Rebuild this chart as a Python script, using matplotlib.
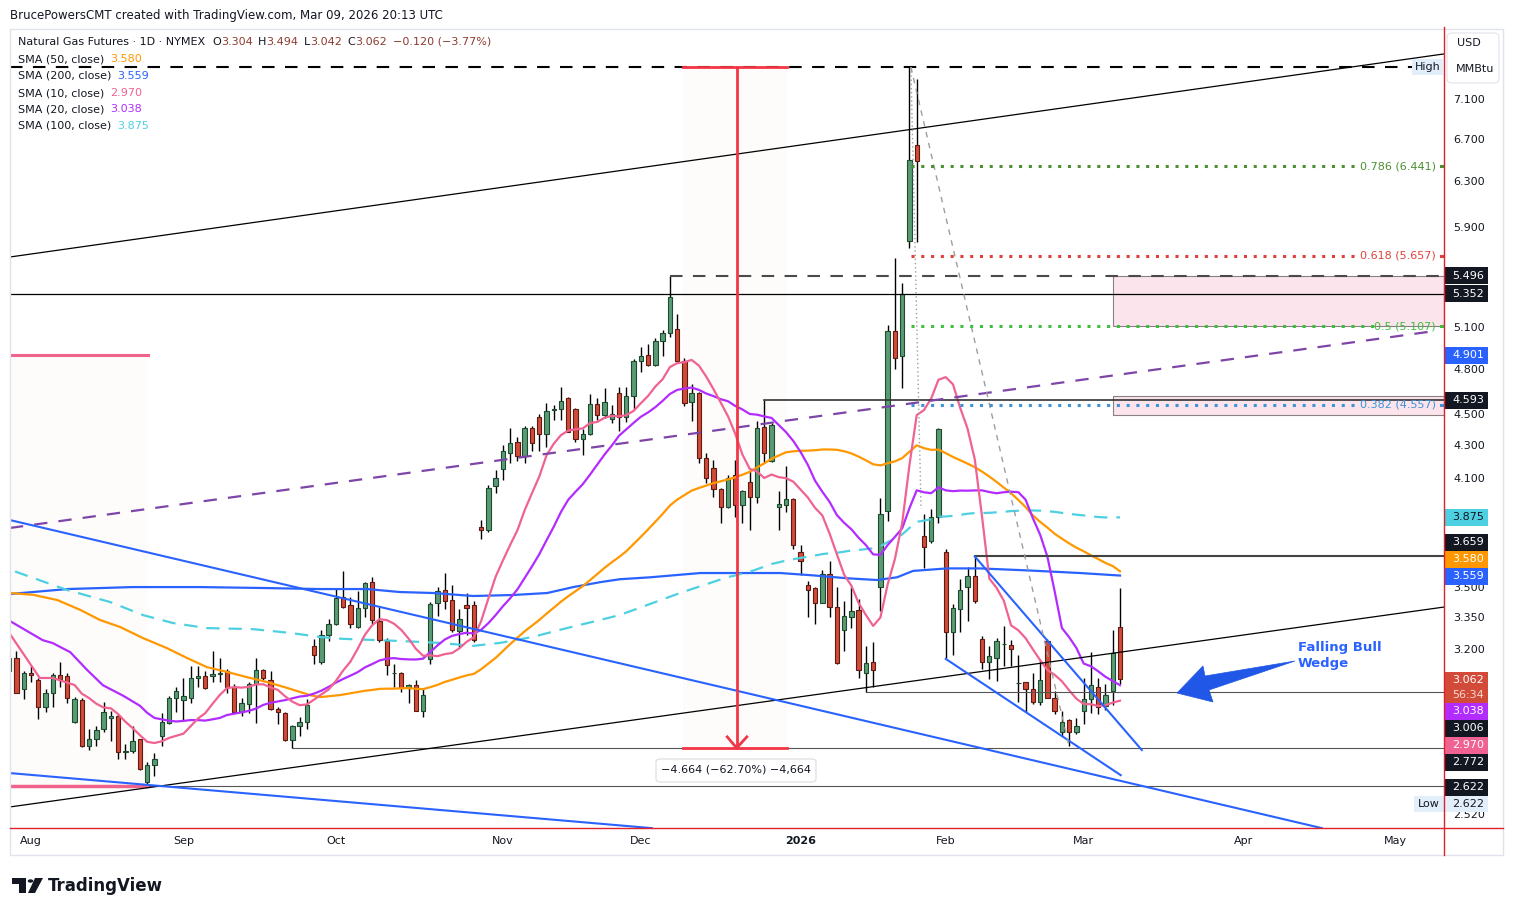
import numpy as np
import pandas as pd
import matplotlib
matplotlib.use("Agg")
import matplotlib.pyplot as plt
from matplotlib.patches import Rectangle, Polygon, FancyBboxPatch, Circle
from matplotlib.lines import Line2D
from matplotlib.ticker import NullLocator, NullFormatter

# NG1! daily candles, bar 0 = 29 Jul 2025 ... bar 153 = 9 Mar 2026
opens = [
    3.10, 3.16, 3.02, 3.09, 3.06, 2.94, 3.00, 3.08, 3.075, 2.88,
    2.97, 2.78, 2.81, 2.85, 2.895, 2.905, 2.755, 2.76, 2.81, 2.64,
    2.705, 2.82, 2.875, 2.98, 2.97, 2.98, 3.07, 3.075, 3.075, 3.085,
    3.10, 3.03, 2.92, 2.955, 3.04, 3.105, 3.06, 2.935, 2.915, 2.805,
    2.86, 2.88, 3.215, 3.14, 3.265, 3.32, 3.45, 3.41, 3.305, 3.395,
    3.525, 3.33, 3.235, 3.09, 3.09, 3.03, 3.035, 2.925, 3.155, 3.42,
    3.485, 3.435, 3.285, 3.41, 3.41, 3.82, 3.80, 4.05, 4.155, 4.25,
    4.32, 4.23, 4.41, 4.48, 4.37, 4.525, 4.53, 4.60, 4.53, 4.34,
    4.37, 4.565, 4.49, 4.465, 4.64, 4.48, 4.62, 4.855, 4.90, 4.83,
    5.00, 5.06, 5.09, 4.86, 4.575, 4.635, 4.22, 4.16, 4.035, 3.93,
    4.12, 3.94, 4.075, 3.99, 4.415, 4.20, 3.93, 3.94, 3.975, 3.685,
    3.51, 3.495, 3.42, 3.565, 3.40, 3.29, 3.35, 3.385, 3.09, 3.14,
    3.50, 3.91, 5.07, 4.89, 5.78, 6.64, 3.77, 3.74, 3.875, 3.68,
    3.28, 3.39, 3.50, 3.555, 3.245, 3.14, 3.16, 3.225, 3.22, 3.045,
    3.05, 3.02, 2.965, 3.235, 2.98, 2.835, 2.885, 2.835, 2.925, 2.975,
    3.03, 2.945, 3.01, 3.304]
highs = [
    3.18, 3.19, 3.10, 3.12, 3.07, 3.02, 3.09, 3.14, 3.09, 2.985,
    2.98, 2.85, 2.86, 2.965, 2.925, 2.91, 2.79, 2.86, 2.81, 2.715,
    2.75, 2.915, 2.99, 3.03, 3.07, 3.12, 3.12, 3.10, 3.19, 3.16,
    3.11, 3.04, 2.98, 3.05, 3.16, 3.11, 3.10, 2.94, 2.92, 2.865,
    2.90, 2.975, 3.245, 3.29, 3.34, 3.49, 3.58, 3.45, 3.48, 3.525,
    3.55, 3.40, 3.25, 3.13, 3.095, 3.04, 3.06, 3.02, 3.425, 3.50,
    3.57, 3.51, 3.39, 3.47, 3.43, 3.86, 4.06, 4.15, 4.30, 4.41,
    4.35, 4.42, 4.42, 4.50, 4.57, 4.56, 4.68, 4.61, 4.535, 4.40,
    4.63, 4.60, 4.67, 4.56, 4.68, 4.68, 4.87, 4.955, 4.98, 5.02,
    5.08, 5.496, 5.20, 4.875, 4.70, 4.645, 4.25, 4.21, 4.04, 4.12,
    4.21, 4.03, 4.14, 4.45, 4.593, 4.44, 4.02, 4.17, 3.985, 3.72,
    3.53, 3.50, 3.59, 3.635, 3.50, 3.43, 3.50, 3.44, 3.215, 3.23,
    3.985, 5.12, 5.64, 5.44, 7.436, 7.31, 3.89, 3.92, 4.41, 3.70,
    3.415, 3.54, 3.605, 3.659, 3.26, 3.215, 3.25, 3.31, 3.24, 3.17,
    3.05, 3.09, 3.15, 3.245, 3.01, 2.925, 2.89, 2.895, 3.07, 3.185,
    3.07, 3.04, 3.29, 3.494]
lows = [
    3.08, 3.00, 2.975, 3.05, 2.89, 2.92, 2.94, 3.03, 2.96, 2.875,
    2.775, 2.765, 2.78, 2.835, 2.80, 2.73, 2.73, 2.75, 2.685, 2.622,
    2.66, 2.78, 2.87, 2.92, 2.885, 2.96, 3.03, 3.02, 3.05, 3.05,
    3.00, 2.915, 2.905, 2.915, 2.875, 3.06, 2.93, 2.87, 2.80, 2.772,
    2.82, 2.85, 3.13, 3.13, 3.235, 3.315, 3.395, 3.30, 3.30, 3.35,
    3.32, 3.23, 3.08, 3.03, 3.005, 2.96, 2.925, 2.90, 3.13, 3.355,
    3.39, 3.28, 3.21, 3.265, 3.23, 3.75, 3.79, 4.01, 4.085, 4.19,
    4.20, 4.19, 4.26, 4.26, 4.29, 4.46, 4.46, 4.38, 4.32, 4.24,
    4.365, 4.46, 4.47, 4.44, 4.39, 4.445, 4.53, 4.78, 4.82, 4.82,
    4.89, 5.03, 4.85, 4.55, 4.45, 4.19, 4.07, 3.99, 3.84, 3.925,
    3.875, 3.84, 3.80, 3.955, 4.19, 4.195, 3.80, 3.90, 3.70, 3.56,
    3.35, 3.32, 3.42, 3.35, 3.13, 3.19, 3.30, 3.07, 3.006, 3.03,
    3.38, 3.85, 4.80, 4.67, 5.72, 5.77, 3.60, 3.73, 3.84, 3.16,
    3.17, 3.28, 3.33, 3.42, 3.11, 3.065, 3.055, 3.12, 3.12, 2.965,
    2.92, 2.955, 2.95, 2.98, 2.91, 2.82, 2.782, 2.83, 2.87, 2.915,
    2.91, 2.93, 2.95, 3.042]
closes = [
    3.16, 3.00, 3.09, 3.08, 2.94, 3.00, 3.08, 3.065, 2.98, 2.975,
    2.78, 2.81, 2.845, 2.92, 2.905, 2.755, 2.76, 2.80, 2.69, 2.705,
    2.73, 2.88, 2.98, 3.01, 2.99, 3.07, 3.075, 3.025, 3.085, 3.09,
    3.03, 2.92, 2.96, 3.04, 3.105, 3.07, 2.935, 2.92, 2.805, 2.86,
    2.88, 2.95, 3.17, 3.265, 3.32, 3.445, 3.40, 3.32, 3.395, 3.52,
    3.335, 3.24, 3.125, 3.09, 3.025, 3.035, 2.925, 2.995, 3.415, 3.48,
    3.43, 3.29, 3.34, 3.395, 3.24, 3.80, 4.04, 4.10, 4.26, 4.31,
    4.23, 4.41, 4.31, 4.37, 4.52, 4.53, 4.585, 4.385, 4.34, 4.37,
    4.565, 4.49, 4.575, 4.50, 4.48, 4.62, 4.855, 4.89, 4.83, 5.00,
    5.06, 5.33, 4.855, 4.57, 4.635, 4.22, 4.10, 4.035, 3.93, 4.10,
    3.94, 4.02, 3.99, 4.41, 4.25, 4.425, 3.945, 3.975, 3.72, 3.635,
    3.485, 3.42, 3.565, 3.40, 3.135, 3.355, 3.38, 3.105, 3.135, 3.105,
    3.89, 5.07, 4.88, 5.35, 6.50, 6.49, 3.71, 3.875, 4.40, 3.28,
    3.395, 3.485, 3.555, 3.43, 3.14, 3.165, 3.235, 3.225, 3.20, 3.045,
    3.02, 2.965, 3.06, 2.98, 2.925, 2.88, 2.835, 2.86, 2.975, 3.035,
    2.94, 2.995, 3.18, 3.062]

month_labels = ["Aug", "Sep", "Oct", "Nov", "Dec", "2026", "Feb", "Mar", "Apr", "May"]
month_bars = [3, 24, 45, 68, 87, 109, 129, 148, 170, 191]
price_ticks = [7.1, 6.7, 6.3, 5.9, 5.1, 4.8, 4.5, 4.3, 4.1, 3.5, 3.35, 3.2, 2.52]

sma10_head_x = [0.1, 4.2, 6.0]
sma10_head_y = [3.27, 3.068, 3.068]
sma20_head_x = [0.1, 4.6, 6.0, 8.4, 10.7, 12.9, 15.7, 18.0]
sma20_head_y = [3.332, 3.241, 3.227, 3.185, 3.105, 3.036, 2.99, 2.947]
sma50_head_x = [0.1, 3.3, 6.6, 9.8, 12.5, 15.3, 18.4, 21.7, 24.5, 27.2, 30.0, 32.7,
                35.5, 38.3, 41.4, 42.8, 45.6]
sma50_head_y = [3.470, 3.461, 3.435, 3.386, 3.337, 3.303, 3.251, 3.204, 3.158, 3.117,
                3.095, 3.072, 3.050, 3.024, 2.993, 2.984, 2.993]
sma100_head_x = [0.8, 8.0, 13.9, 18.4, 22.6, 27.2, 33.6, 38.7, 42.8, 46.0, 53.8, 59.3,
                 63.9, 67.6, 72.1, 76.8, 81.4, 84.1, 92.4]
sma100_head_y = [3.58, 3.485, 3.425, 3.361, 3.322, 3.298, 3.293, 3.275, 3.256, 3.247,
                 3.237, 3.228, 3.214, 3.228, 3.256, 3.298, 3.337, 3.361, 3.470]
sma200_x = [0.1, 8.0, 17.0, 26.3, 35.5, 42.8, 49.3, 53.8, 58.4, 63.9, 69.4, 74.1, 77.7,
            81.4, 84.1, 88.3, 95.2, 106.2, 110.7, 115.4, 119.5, 122.3, 124.5, 129.2,
            133.7, 140.6, 147.5, 153.0]
sma200_y = [3.465, 3.490, 3.500, 3.500, 3.495, 3.490, 3.490, 3.475, 3.470, 3.455, 3.460,
            3.470, 3.500, 3.525, 3.540, 3.550, 3.572, 3.572, 3.560, 3.545, 3.536, 3.550,
            3.583, 3.596, 3.596, 3.585, 3.572, 3.559]

W, H = 1514, 916
UP, UP_EDGE = "#5A9B74", "#1E4A30"
DN, DN_EDGE = "#D24B38", "#5E1B13"
TXT = "#131722"


def fy(y):
    return 1 - y / H


fig = plt.figure(figsize=(W / 100, H / 100), dpi=100)
fig.patch.set_facecolor("white")
ax = fig.add_axes([10 / W, 1 - 828 / H, 1434 / W, 798 / H])
ax.set_yscale("log")
ax.set_xlim(0.107, 197.63)
ax.set_ylim(2.4685, 7.8467)
for s in ax.spines.values():
    s.set_visible(False)
ax.yaxis.tick_right()
ax.set_yticks(price_ticks)
ax.set_yticklabels([f"{p:.3f}" for p in price_ticks])
ax.yaxis.set_minor_locator(NullLocator())
ax.yaxis.set_minor_formatter(NullFormatter())
ax.tick_params(axis="y", length=0, pad=6.5, labelsize=8, labelcolor=TXT)
ax.set_xticks(month_bars)
ax.set_xticklabels(month_labels)
ax.tick_params(axis="x", length=0, pad=6, labelsize=8, labelcolor=TXT)
ax.get_xticklabels()[5].set_fontweight("bold")

# faint shaded drawing areas
ax.add_patch(Rectangle((0.1, 2.622), 19.0, 4.901 - 2.622, fc="#FDFCFB", ec="none", zorder=0.5))
ax.add_patch(Rectangle((92.8, 2.772), 14.3, 7.436 - 2.772, fc="#FDFCFB", ec="none", zorder=0.5))

# candles
idx = np.arange(len(closes))
o, h, l, c = map(np.array, (opens, highs, lows, closes))
up = c >= o
ax.vlines(idx, l, h, color="black", lw=1.0, zorder=2)
ax.bar(idx, np.abs(c - o), bottom=np.minimum(o, c), width=0.6,
       color=np.where(up, UP, DN), edgecolor=np.where(up, UP_EDGE, DN_EDGE),
       linewidth=0.8, zorder=2.5)

# moving averages
cs = pd.Series(closes)
sma10 = cs.rolling(10).mean()
sma20 = cs.rolling(20).mean()
sma50 = cs.rolling(50).mean()
sma100 = cs.rolling(100).mean()
ax.plot(sma200_x, sma200_y, color="#2962FF", lw=1.6, zorder=3)
ax.plot(sma100_head_x + list(idx[99:]), sma100_head_y + list(sma100[99:]),
        color="#4DD0E1", lw=1.6, dashes=(6, 4), zorder=3)
ax.plot(sma50_head_x + list(idx[49:]), sma50_head_y + list(sma50[49:]),
        color="#FF9800", lw=1.6, zorder=3)
ax.plot(sma20_head_x + list(idx[19:]), sma20_head_y + list(sma20[19:]),
        color="#B22CFF", lw=1.6, zorder=3)
ax.plot(sma10_head_x + list(idx[9:]), sma10_head_y + list(sma10[9:]),
        color="#F06292", lw=1.6, zorder=3)

# zones
for x0, p0, p1 in [(152.0, 5.107, 5.496), (152.0, 4.49, 4.616)]:
    ax.add_patch(Rectangle((x0, p0), 197.63 - x0, p1 - p0, fc="#FCE4EC", ec="#8A8080",
                           lw=0.8, zorder=1.5))

# horizontal levels
ax.plot([0.1, 193.8], [7.436, 7.436], color="black", lw=1.5, dashes=(6, 5), zorder=4)
ax.plot([91, 197.63], [5.496, 5.496], color="#4A4A4A", lw=1.5, dashes=(6, 5), zorder=4)
ax.plot([0.1, 197.63], [5.352, 5.352], color="black", lw=0.9, zorder=4)
ax.plot([104, 197.63], [4.593, 4.593], color="#333333", lw=1.2, zorder=4)
ax.plot([133, 197.63], [3.659, 3.659], color="#444444", lw=1.5, zorder=4)
for p, x0 in [(3.006, 118), (2.772, 39), (2.622, 19)]:
    ax.plot([x0, 197.63], [p, p], color="#555555", lw=0.8, zorder=4)
ax.plot([0.1, 19.1], [4.901, 4.901], color="#F0648C", lw=2.2, zorder=4)
ax.plot([0.1, 19.0], [2.622, 2.622], color="#F0648C", lw=2.5, zorder=4)

# trend lines
ax.plot([0.1, 197.6], [5.647, 7.579], color="black", lw=0.9, zorder=4)
ax.plot([0.1, 197.6], [2.545, 3.400], color="black", lw=0.9, zorder=4)
ax.plot([0.1, 196.4], [3.813, 5.073], color="#7E45A8", lw=1.6, dashes=(6, 5), zorder=4)
ax.plot([0.1, 180.8], [3.857, 2.468], color="#2962FF", lw=1.5, zorder=4)
ax.plot([0.1, 88.5], [2.673, 2.468], color="#2962FF", lw=1.5, zorder=4)
ax.plot([133.0, 156.0], [3.659, 2.764], color="#2962FF", lw=1.5, zorder=4)
ax.plot([129.0, 153.1], [3.154, 2.665], color="#2962FF", lw=1.5, zorder=4)
ax.plot([124.2, 146.0], [7.436, 2.777], color="#9E9E9E", lw=1.0, dashes=(4, 4), zorder=4)
ax.plot([124.2, 125.6], [7.436, 3.92], color="#9E9E9E", lw=1.0, dashes=(1, 2), zorder=4)

# fibonacci levels
fibs = [(6.441, "0.786 (6.441)", "#4C8F2F", 186.1),
        (5.657, "0.618 (5.657)", "#E0403A", 186.1),
        (5.107, "0.5 (5.107)", "#3DBE3D", 188.0),
        (4.557, "0.382 (4.557)", "#3D93D8", 186.1)]
for p, lab, col, x1 in fibs:
    ax.plot([124.2, x1], [p, p], color=col, lw=2.2, dashes=(1, 2.2), zorder=4.5)
    ax.plot([197.2, 197.63], [p, p], color=col, lw=2.2, zorder=4.5)
    ax.text(196.5, p, lab, color=col, fontsize=8, ha="right", va="center", zorder=5)

# price range measurement
red = "#F23645"
ax.plot([100.2, 100.2], [7.436, 2.772], color=red, lw=2, zorder=4.6)
ax.plot([92.8, 107.1], [7.436, 7.436], color=red, lw=2, zorder=4.6)
ax.plot([92.8, 107.1], [2.772, 2.772], color=red, lw=2, zorder=4.6)
ax.plot([98.9, 100.2, 101.6], [2.817, 2.772, 2.817], color=red, lw=2, zorder=4.6)
fig.patches.append(FancyBboxPatch((656 / W, fy(782)), 160 / W, 23 / H,
                                  boxstyle="round,pad=0,rounding_size=0.003",
                                  transform=fig.transFigure, fc="white", ec="#DADCE0", lw=0.8))
fig.text(736 / W, fy(770), "\u22124.664 (\u221262.70%) \u22124,664", fontsize=8,
         ha="center", va="center", color=TXT)

# falling wedge annotation
arrow = [(1177, 693), (1203, 666), (1205, 676), (1295, 661), (1209, 690), (1213, 702)]
fig.patches.append(Polygon([(x / W, fy(y)) for x, y in arrow], closed=True,
                           transform=fig.transFigure, fc="#2157E6", ec="#2157E6", lw=0.5))
fig.text(1298 / W, fy(648), "Falling Bull", fontsize=9.5, fontweight="bold",
         color="#2962FF", va="center")
fig.text(1298 / W, fy(664), "Wedge", fontsize=9.5, fontweight="bold",
         color="#2962FF", va="center")

# frame and red separators
fig.patches.append(Rectangle((10 / W, fy(855)), 1493 / W, 826 / H, transform=fig.transFigure,
                             fc="none", ec="#E0E3EB", lw=1))
fig.add_artist(Line2D([1444 / W, 1444 / W], [fy(27), fy(855)], color="#E0202A", lw=1))
fig.add_artist(Line2D([10 / W, 1503 / W], [fy(828), fy(828)], color="#E0202A", lw=1))

# price-axis tags
BLACK = "#131722"
tags = [("5.496", 276, BLACK, "white"), ("5.352", 294, BLACK, "white"),
        ("4.901", 355, "#2962FF", "white"), ("4.593", 400, BLACK, "white"),
        ("3.875", 517, "#4DD0E1", TXT), ("3.659", 542, BLACK, "white"),
        ("3.580", 559, "#FF9800", "white"), ("3.559", 576, "#2962FF", "white"),
        ("3.038", 711, "#B22CFF", "white"), ("3.006", 728, BLACK, "white"),
        ("2.970", 745, "#F06292", "white"), ("2.772", 762, BLACK, "white"),
        ("2.622", 787, BLACK, "white")]
for txt, y, bg, fg in tags:
    fig.patches.append(Rectangle((1445 / W, fy(y + 8.5)), 43 / W, 17 / H,
                                 transform=fig.transFigure, fc=bg, ec="none"))
    fig.text(1452 / W, fy(y), txt, fontsize=8, color=fg, va="center", ha="left")
fig.patches.append(Rectangle((1445 / W, fy(703)), 43 / W, 31 / H,
                             transform=fig.transFigure, fc="#D24B38", ec="none"))
fig.text(1452 / W, fy(680), "3.062", fontsize=8, color="white", va="center")
fig.text(1452 / W, fy(695), "56:34", fontsize=8, color="#F8D6D0", va="center")
fig.patches.append(Rectangle((1414 / W, fy(812)), 74 / W, 16 / H,
                             transform=fig.transFigure, fc="#E3EEFB", ec="none"))
fig.text(1418 / W, fy(804), "Low", fontsize=8, color=TXT, va="center")
fig.text(1452 / W, fy(804), "2.622", fontsize=8, color=TXT, va="center")
fig.patches.append(Rectangle((1412 / W, fy(75)), 31 / W, 16 / H,
                             transform=fig.transFigure, fc="#E3EEFB", ec="none"))
fig.text(1415 / W, fy(67), "High", fontsize=8, color=TXT, va="center")
fig.patches.append(FancyBboxPatch((1447 / W, fy(83)), 52 / W, 50 / H,
                                  boxstyle="round,pad=0,rounding_size=0.004",
                                  transform=fig.transFigure, fc="white", ec="#E0E3EB", lw=0.8))
fig.text(1457 / W, fy(43), "USD", fontsize=8, color=TXT, va="center")
fig.text(1456 / W, fy(69), "MMBtu", fontsize=8, color=TXT, va="center")

# header and legend
fig.text(10 / W, fy(15), "BrucePowersCMT created with TradingView.com, Mar 09, 2026 20:13 UTC",
         fontsize=8.5, color=TXT, va="center")


def chain(y, parts):
    prev = ax.annotate(parts[0][0], xy=(18, H - y), xycoords="figure pixels",
                       color=parts[0][1], fontsize=8, va="center", ha="left",
                       annotation_clip=False)
    for txt, col, gap in parts[1:]:
        prev = ax.annotate(txt, xy=(1, 0.5), xycoords=prev, xytext=(gap, 0),
                           textcoords="offset points", color=col, fontsize=8,
                           va="center", ha="left", annotation_clip=False)


VAL = "#8D3B30"
chain(42, [("Natural Gas Futures \u00b7 1D \u00b7 NYMEX", TXT), ("O", TXT, 5), ("3.304", VAL, 0),
           ("H", TXT, 4), ("3.494", VAL, 0), ("L", TXT, 4), ("3.042", VAL, 0),
           ("C", TXT, 4), ("3.062", VAL, 0), ("\u22120.120 (\u22123.77%)", VAL, 4)])
for y, name, val, col in [(59, "SMA (50, close)", "3.580", "#FF9800"),
                          (76, "SMA (200, close)", "3.559", "#2962FF"),
                          (93, "SMA (10, close)", "2.970", "#F06292"),
                          (109, "SMA (20, close)", "3.038", "#B22CFF"),
                          (126, "SMA (100, close)", "3.875", "#4DD0E1")]:
    chain(y, [(name, TXT), (val, col, 4)])

# TradingView logo
logo_t = [(12, 878), (26, 878), (26, 893), (19, 893), (19, 884), (12, 884)]
logo_s = [(35, 878), (43, 878), (35, 893), (28, 893)]
for pts in (logo_t, logo_s):
    fig.patches.append(Polygon([(x / W, fy(y)) for x, y in pts], closed=True,
                               transform=fig.transFigure, fc=TXT, ec="none"))
fig.patches.append(Circle((30.5 / W, fy(881)), 2.8 / W, transform=fig.transFigure, fc=TXT, ec="none"))
fig.text(48 / W, fy(886), "TradingView", fontsize=12, fontweight="bold", color=TXT, va="center")

fig.savefig("out.png", dpi=100)
